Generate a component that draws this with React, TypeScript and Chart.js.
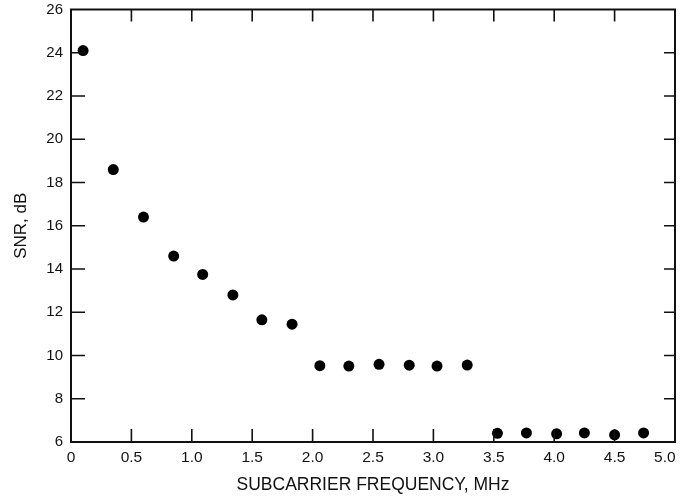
import React, { useEffect, useRef } from "react";
import { Chart, registerables } from "chart.js";

Chart.register(...registerables);

const freqMHz = [0.1, 0.35, 0.6, 0.85, 1.09, 1.34, 1.58, 1.83, 2.06, 2.3, 2.55, 2.8, 3.03, 3.28, 3.53, 3.77, 4.02, 4.25, 4.5, 4.74];
const snrDb = [24.1, 18.6, 16.4, 14.6, 13.75, 12.8, 11.65, 11.45, 9.53, 9.51, 9.59, 9.55, 9.51, 9.56, 6.4, 6.42, 6.38, 6.42, 6.33, 6.42];
const xTicks = [0, 0.5, 1.0, 1.5, 2.0, 2.5, 3.0, 3.5, 4.0, 4.5, 5.0];
const yTicks = [6, 8, 10, 12, 14, 16, 18, 20, 22, 24, 26];

const FONT = "'Liberation Sans', Arial, Helvetica, sans-serif";

const frameTicks = {
  id: "frameTicks",
  afterDatasetsDraw(chart: any) {
    const { ctx, chartArea: a, scales } = chart;
    const xs = scales.x;
    const ys = scales.y;
    ctx.save();
    ctx.strokeStyle = "#111";
    ctx.lineWidth = 1.6;
    xTicks.slice(1, -1).forEach((v) => {
      const px = xs.getPixelForValue(v);
      ctx.beginPath();
      ctx.moveTo(px, a.bottom);
      ctx.lineTo(px, a.bottom - 13);
      ctx.moveTo(px, a.top);
      ctx.lineTo(px, a.top + 12);
      ctx.stroke();
    });
    yTicks.slice(1, -1).forEach((v) => {
      const py = ys.getPixelForValue(v);
      ctx.beginPath();
      ctx.moveTo(a.left, py);
      ctx.lineTo(a.left + 14, py);
      ctx.moveTo(a.right, py);
      ctx.lineTo(a.right - 11, py);
      ctx.stroke();
    });
    ctx.lineWidth = 2;
    ctx.strokeRect(a.left, a.top, a.right - a.left, a.bottom - a.top);
    ctx.restore();
  },
};

export default function App() {
  const ref = useRef<HTMLCanvasElement | null>(null);
  useEffect(() => {
    if (!ref.current) return;
    const chart = new Chart(ref.current, {
      type: "scatter",
      data: {
        datasets: [
          {
            data: freqMHz.map((x, i) => ({ x, y: snrDb[i] })),
            backgroundColor: "#000",
            borderWidth: 0,
            pointRadius: 5.5,
            pointHoverRadius: 5.5,
            clip: false as any,
          },
        ],
      },
      options: {
        animation: false,
        responsive: false,
        maintainAspectRatio: false,
        layout: { padding: { top: 9.5, right: 6, left: 0, bottom: 0 } },
        plugins: { legend: { display: false }, tooltip: { enabled: false } },
        scales: {
          x: {
            type: "linear",
            min: 0,
            max: 5,
            afterFit: (s: any) => {
              s.height = 60;
              s.paddingLeft = 0;
              s.paddingRight = 0;
            },
            afterBuildTicks: (s: any) => {
              s.ticks = xTicks.map((v) => ({ value: v }));
            },
            grid: { display: false, drawTicks: false },
            border: { display: false },
            ticks: {
              padding: 6,
              color: "#111",
              font: { family: FONT, size: 15.5 },
              maxRotation: 0,
              autoSkip: false,
              callback: (v: any) => {
                const n = Number(v);
                if (n === 0) return "0";
                if (n === 5) return "5.0\u2007\u2007\u2009";
                return n.toFixed(1);
              },
            },
            title: {
              display: true,
              text: "SUBCARRIER FREQUENCY, MHz",
              color: "#111",
              font: { family: FONT, size: 17.5 },
              padding: { top: 0, bottom: 6 },
            },
          },
          y: {
            type: "linear",
            min: 6,
            max: 26,
            afterFit: (s: any) => {
              s.width = 71;
              s.paddingTop = 0;
              s.paddingBottom = 0;
            },
            afterBuildTicks: (s: any) => {
              s.ticks = yTicks.map((v) => ({ value: v }));
            },
            grid: { display: false, drawTicks: false },
            border: { display: false },
            ticks: {
              padding: 8,
              color: "#111",
              font: { family: FONT, size: 15 },
              autoSkip: false,
            },
            title: {
              display: true,
              text: "SNR, dB",
              color: "#111",
              font: { family: FONT, size: 17 },
              padding: { top: 11, bottom: 0 },
            },
          },
        },
      },
      plugins: [frameTicks],
    });
    return () => chart.destroy();
  }, []);
  return (
    <div style={{ position: "absolute", left: 0, top: 0, width: 681, height: 502, background: "#fff" }}>
      <canvas ref={ref} width={681} height={502} style={{ width: 681, height: 502, display: "block" }} />
    </div>
  );
}
